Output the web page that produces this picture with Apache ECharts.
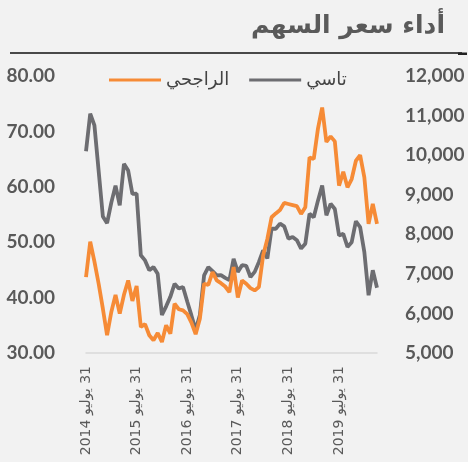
<!DOCTYPE html>
<html>
<head>
<meta charset="utf-8">
<script src="https://cdn.jsdelivr.net/npm/echarts@6/dist/echarts.min.js"></script>
<style>
  html, body { margin: 0; padding: 0; background: #f2f2f2; }
  #main { width: 468px; height: 462px; direction: rtl; }
</style>
</head>
<body>
<div id="main"></div>
<script>
// monthly closes, Jul 2014 .. Apr 2020
var months = [];
for (var m = 0; m < 70; m++) {
  var y = 2014 + Math.floor((6 + m) / 12);
  var mm = (6 + m) % 12 + 1;
  months.push(y + '-' + (mm < 10 ? '0' + mm : mm));
}
var tickLabels = ['31 يوليو 2014', '31 يوليو 2015', '31 يوليو 2016', '31 يوليو 2017', '31 يوليو 2018', '31 يوليو 2019'];

// الراجحي (left axis)
var rajhi = [43.7, 50.1, 46.5, 42.5, 38.0, 33.2, 37.4, 40.5, 37.1, 40.5,
             43.1, 39.4, 42.1, 34.7, 35.2, 33.2, 32.3, 33.6, 32.0, 35.0,
             33.5, 38.9, 37.9, 37.7, 37.0, 35.5, 33.4, 36.2, 42.5, 42.3,
             44.6, 43.1, 42.6, 42.0, 41.0, 45.5, 40.0, 43.1, 42.5, 41.7,
             41.3, 41.9, 47.6, 50.6, 54.5, 55.2, 55.8, 57.1, 56.9, 56.7,
             56.5, 55.1, 56.3, 65.3, 65.0, 70.5, 74.3, 68.1, 69.1, 68.2,
             60.2, 62.7, 59.9, 61.4, 64.7, 65.7, 61.7, 53.3, 56.9, 53.3];

// تاسي (right axis)
var tasi = [10100, 11050, 10750, 9600, 8450, 8280, 8800, 9230, 8730, 9780,
            9610, 9020, 9030, 7470, 7340, 7090, 7170, 7000, 5960, 6180,
            6420, 6750, 6630, 6670, 6300, 5950, 5580, 5960, 6960, 7170,
            7070, 6960, 6970, 6900, 6840, 7380, 7050, 7220, 7200, 6920,
            7050, 7300, 7590, 7390, 8140, 8140, 8270, 8200, 7890, 7930,
            7850, 7640, 7760, 8520, 8430, 8850, 9230, 8480, 8770, 8640,
            7970, 8010, 7680, 7800, 8330, 8180, 7550, 6460, 7090, 6650];

var chart = echarts.init(document.getElementById('main'));

var option = {
  backgroundColor: '#f2f2f2',
  animation: false,
  title: {
    text: 'أداء سعر السهم',
    right: 18,
    top: 9,
    textStyle: { fontFamily: 'DejaVu Sans', fontSize: 25, fontWeight: 'bold', color: '#5a5a5a' }
  },
  graphic: [
    { type: 'line', shape: { x1: 10, y1: 53, x2: 462, y2: 53 }, style: { stroke: '#111', lineWidth: 1.3 } },
    { type: 'rect', shape: { x: 458, y: 52.5, width: 9, height: 2.5 }, style: { fill: '#222' } }
  ],
  legend: {
    data: ['الراجحي', 'تاسي'],
    left: 104,
    top: 66,
    icon: 'rect',
    itemWidth: 52,
    itemHeight: 3,
    itemGap: 20,
    textStyle: { fontFamily: 'DejaVu Sans', fontSize: 18, color: '#444' }
  },
  grid: { left: 86, right: 91, top: 76, bottom: 109 },
  xAxis: {
    type: 'category',
    data: months,
    boundaryGap: false,
    axisLine: { lineStyle: { color: '#d9d9d9', width: 1.5 } },
    axisTick: { show: false },
    axisLabel: {
      interval: 11,
      rotate: 90,
      margin: 13,
      fontFamily: 'DejaVu Sans',
      fontSize: 14,
      color: '#5a5a5a',
      formatter: function (v, i) { return tickLabels[Math.round(i / 12)]; }
    }
  },
  yAxis: [
    {
      type: 'value', min: 30, max: 80, interval: 10,
      splitLine: { show: false },
      axisLine: { show: false }, axisTick: { show: false },
      axisLabel: {
        margin: 31, fontFamily: 'Lato', fontWeight: 'bold', fontSize: 19, color: '#595959',
        formatter: function (v) { return v.toFixed(2); }
      }
    },
    {
      type: 'value', min: 5000, max: 12000, interval: 1000,
      splitLine: { show: false },
      axisLine: { show: false }, axisTick: { show: false },
      axisLabel: {
        margin: 28, fontFamily: 'Lato', fontWeight: 'bold', fontSize: 19, color: '#595959',
        formatter: function (v) { return v.toLocaleString('en-US'); }
      }
    }
  ],
  series: [
    {
      name: 'تاسي', type: 'line', yAxisIndex: 1, data: tasi,
      symbol: 'none',
      lineStyle: { color: '#6d6d71', width: 3.8 },
      itemStyle: { color: '#6d6d71' }
    },
    {
      name: 'الراجحي', type: 'line', yAxisIndex: 0, data: rajhi,
      symbol: 'none',
      lineStyle: { color: '#f68b36', width: 3.8 },
      itemStyle: { color: '#f68b36' }
    }
  ]
};

chart.setOption(option);
</script>
</body>
</html>
